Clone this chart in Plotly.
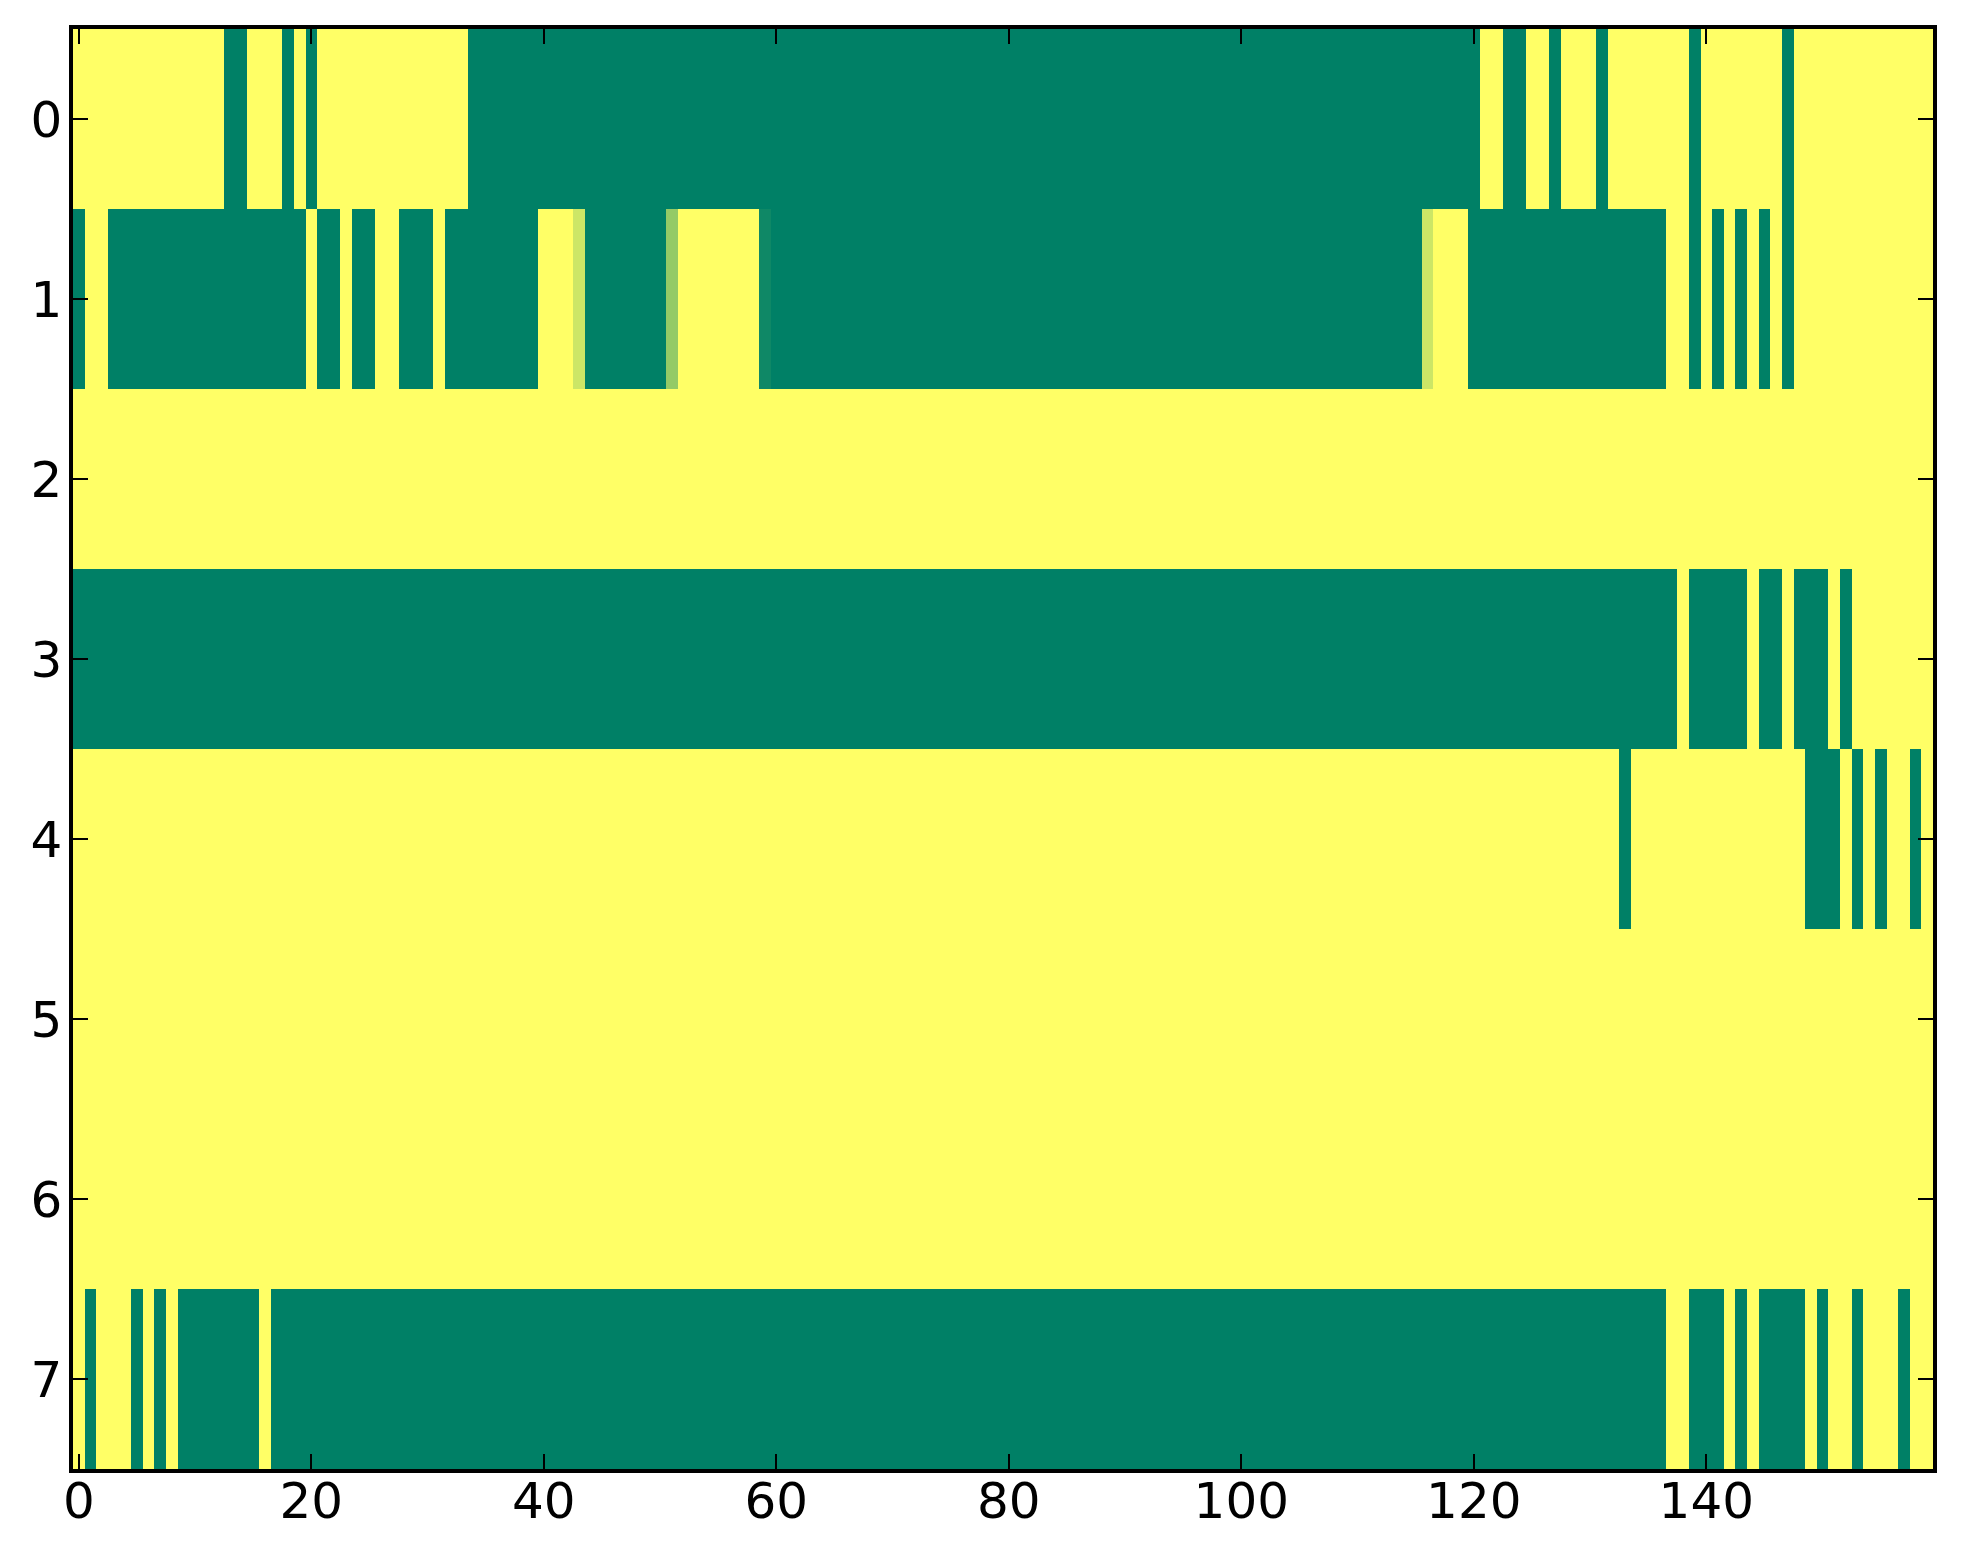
import plotly.graph_objects as go

# cell values per row (0 = green end, 1 = yellow end of the "summer" map)
row0 = [
    1, 1, 1, 1, 1, 1, 1, 1, 1, 1, 1, 1, 1, 0, 0, 1, 1, 1, 0, 1,
    0, 1, 1, 1, 1, 1, 1, 1, 1, 1, 1, 1, 1, 1, 0, 0, 0, 0, 0, 0,
    0, 0, 0, 0, 0, 0, 0, 0, 0, 0, 0, 0, 0, 0, 0, 0, 0, 0, 0, 0,
    0, 0, 0, 0, 0, 0, 0, 0, 0, 0, 0, 0, 0, 0, 0, 0, 0, 0, 0, 0,
    0, 0, 0, 0, 0, 0, 0, 0, 0, 0, 0, 0, 0, 0, 0, 0, 0, 0, 0, 0,
    0, 0, 0, 0, 0, 0, 0, 0, 0, 0, 0, 0, 0, 0, 0, 0, 0, 0, 0, 0,
    0, 1, 1, 0, 0, 1, 1, 0, 1, 1, 1, 0, 1, 1, 1, 1, 1, 1, 1, 0,
    1, 1, 1, 1, 1, 1, 1, 0, 1, 1, 1, 1, 1, 1, 1, 1, 1, 1, 1, 1,
]
row1 = [
    0, 1, 1, 0, 0, 0, 0, 0, 0, 0, 0, 0, 0, 0, 0, 0, 0, 0, 0, 0,
    1, 0, 0, 1, 0, 0, 1, 1, 0, 0, 0, 1, 0, 0, 0, 0, 0, 0, 0, 0,
    1, 1, 1, 0.8, 0, 0, 0, 0, 0, 0, 0, 0.58, 1, 1, 1, 1, 1, 1, 1, 0.06,
    0, 0, 0, 0, 0, 0, 0, 0, 0, 0, 0, 0, 0, 0, 0, 0, 0, 0, 0, 0,
    0, 0, 0, 0, 0, 0, 0, 0, 0, 0, 0, 0, 0, 0, 0, 0, 0, 0, 0, 0,
    0, 0, 0, 0, 0, 0, 0, 0, 0, 0, 0, 0, 0, 0, 0, 0, 0.8, 1, 1, 1,
    0, 0, 0, 0, 0, 0, 0, 0, 0, 0, 0, 0, 0, 0, 0, 0, 0, 1, 1, 0,
    1, 0, 1, 0, 1, 0, 1, 0, 1, 1, 1, 1, 1, 1, 1, 1, 1, 1, 1, 1,
]
row2 = [
    1, 1, 1, 1, 1, 1, 1, 1, 1, 1, 1, 1, 1, 1, 1, 1, 1, 1, 1, 1,
    1, 1, 1, 1, 1, 1, 1, 1, 1, 1, 1, 1, 1, 1, 1, 1, 1, 1, 1, 1,
    1, 1, 1, 1, 1, 1, 1, 1, 1, 1, 1, 1, 1, 1, 1, 1, 1, 1, 1, 1,
    1, 1, 1, 1, 1, 1, 1, 1, 1, 1, 1, 1, 1, 1, 1, 1, 1, 1, 1, 1,
    1, 1, 1, 1, 1, 1, 1, 1, 1, 1, 1, 1, 1, 1, 1, 1, 1, 1, 1, 1,
    1, 1, 1, 1, 1, 1, 1, 1, 1, 1, 1, 1, 1, 1, 1, 1, 1, 1, 1, 1,
    1, 1, 1, 1, 1, 1, 1, 1, 1, 1, 1, 1, 1, 1, 1, 1, 1, 1, 1, 1,
    1, 1, 1, 1, 1, 1, 1, 1, 1, 1, 1, 1, 1, 1, 1, 1, 1, 1, 1, 1,
]
row3 = [
    0, 0, 0, 0, 0, 0, 0, 0, 0, 0, 0, 0, 0, 0, 0, 0, 0, 0, 0, 0,
    0, 0, 0, 0, 0, 0, 0, 0, 0, 0, 0, 0, 0, 0, 0, 0, 0, 0, 0, 0,
    0, 0, 0, 0, 0, 0, 0, 0, 0, 0, 0, 0, 0, 0, 0, 0, 0, 0, 0, 0,
    0, 0, 0, 0, 0, 0, 0, 0, 0, 0, 0, 0, 0, 0, 0, 0, 0, 0, 0, 0,
    0, 0, 0, 0, 0, 0, 0, 0, 0, 0, 0, 0, 0, 0, 0, 0, 0, 0, 0, 0,
    0, 0, 0, 0, 0, 0, 0, 0, 0, 0, 0, 0, 0, 0, 0, 0, 0, 0, 0, 0,
    0, 0, 0, 0, 0, 0, 0, 0, 0, 0, 0, 0, 0, 0, 0, 0, 0, 0, 1, 0,
    0, 0, 0, 0, 1, 0, 0, 1, 0, 0, 0, 1, 0, 1, 1, 1, 1, 1, 1, 1,
]
row4 = [
    1, 1, 1, 1, 1, 1, 1, 1, 1, 1, 1, 1, 1, 1, 1, 1, 1, 1, 1, 1,
    1, 1, 1, 1, 1, 1, 1, 1, 1, 1, 1, 1, 1, 1, 1, 1, 1, 1, 1, 1,
    1, 1, 1, 1, 1, 1, 1, 1, 1, 1, 1, 1, 1, 1, 1, 1, 1, 1, 1, 1,
    1, 1, 1, 1, 1, 1, 1, 1, 1, 1, 1, 1, 1, 1, 1, 1, 1, 1, 1, 1,
    1, 1, 1, 1, 1, 1, 1, 1, 1, 1, 1, 1, 1, 1, 1, 1, 1, 1, 1, 1,
    1, 1, 1, 1, 1, 1, 1, 1, 1, 1, 1, 1, 1, 1, 1, 1, 1, 1, 1, 1,
    1, 1, 1, 1, 1, 1, 1, 1, 1, 1, 1, 1, 1, 0, 1, 1, 1, 1, 1, 1,
    1, 1, 1, 1, 1, 1, 1, 1, 1, 0, 0, 0, 1, 0, 1, 0, 1, 1, 0, 1,
]
row5 = list(row2)
row6 = list(row2)
row7 = [
    1, 0, 1, 1, 1, 0, 1, 0, 1, 0, 0, 0, 0, 0, 0, 0, 1, 0, 0, 0,
    0, 0, 0, 0, 0, 0, 0, 0, 0, 0, 0, 0, 0, 0, 0, 0, 0, 0, 0, 0,
    0, 0, 0, 0, 0, 0, 0, 0, 0, 0, 0, 0, 0, 0, 0, 0, 0, 0, 0, 0,
    0, 0, 0, 0, 0, 0, 0, 0, 0, 0, 0, 0, 0, 0, 0, 0, 0, 0, 0, 0,
    0, 0, 0, 0, 0, 0, 0, 0, 0, 0, 0, 0, 0, 0, 0, 0, 0, 0, 0, 0,
    0, 0, 0, 0, 0, 0, 0, 0, 0, 0, 0, 0, 0, 0, 0, 0, 0, 0, 0, 0,
    0, 0, 0, 0, 0, 0, 0, 0, 0, 0, 0, 0, 0, 0, 0, 0, 0, 1, 1, 0,
    0, 0, 1, 0, 1, 0, 0, 0, 0, 1, 0, 1, 1, 0, 1, 1, 1, 0, 1, 1,
]

x_ticks = [0, 20, 40, 60, 80, 100, 120, 140]
y_ticks = [0, 1, 2, 3, 4, 5, 6, 7]

z = [row0, row1, row2, row3, row4, row5, row6, row7]

fig = go.Figure(go.Heatmap(
    z=z,
    colorscale=[[0, '#008066'], [1, '#ffff66']],
    zmin=0, zmax=1,
    showscale=False,
))

axis_style = dict(
    showgrid=False, zeroline=False, automargin=False,
    showline=True, linecolor='black', linewidth=3.5,
    mirror='ticks',
    ticks='inside', ticklen=15, tickwidth=2, tickcolor='black',
    tickfont=dict(family='DejaVu Sans', size=50, color='black'),
)

fig.update_xaxes(range=[-0.5, 159.5], tickvals=x_ticks, ticklabelstandoff=-15, **axis_style)
fig.update_yaxes(range=[7.5, -0.5], tickvals=y_ticks, ticklabelstandoff=-3, **axis_style)

# page body adds an 8px offset, so margins are shifted to compensate
fig.update_layout(
    width=1963, height=1564,
    margin=dict(l=65, r=38, t=21, b=103),
    paper_bgcolor='white',
    plot_bgcolor='white',
)

fig.write_html("out.html")
